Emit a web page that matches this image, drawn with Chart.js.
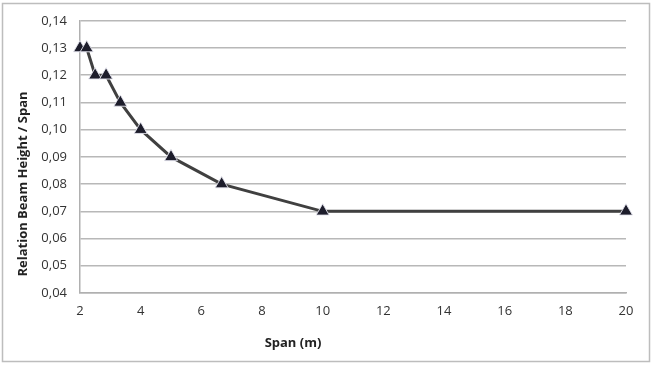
<!DOCTYPE html>
<html>
<head>
<meta charset="utf-8">
<script src="https://cdn.jsdelivr.net/npm/chart.js@4"></script>
<style>
  html, body { margin: 0; padding: 0; background: #fff; }
  #wrap { width: 653px; height: 365px; position: relative; }
</style>
</head>
<body>
<div id="wrap"><canvas id="grafico"></canvas></div>
<script>
// valores
var vaos = [2, 2.22, 2.5, 2.86, 3.33, 4, 5, 6.67, 10, 20];
var relacao = [0.13, 0.13, 0.12, 0.12, 0.11, 0.10, 0.09, 0.08, 0.07, 0.07];
var ticksX = [2, 4, 6, 8, 10, 12, 14, 16, 18, 20];
var ticksY = [0.04, 0.05, 0.06, 0.07, 0.08, 0.09, 0.10, 0.11, 0.12, 0.13, 0.14];
var tituloX = 'Span (m)';
var tituloY = 'Relation Beam Height / Span';

var pontos = [];
for (var i = 0; i < vaos.length; i++) {
    pontos.push({ x: vaos[i], y: relacao[i] });
}

// moldura cinza em volta de tudo + titulos dos eixos (posicao igual ao original)
const moldura = {
    id: 'moldura',
    beforeDraw(chart) {
        const ctx = chart.ctx;
        ctx.save();
        ctx.fillStyle = '#fff';
        ctx.fillRect(0, 0, chart.width, chart.height);
        ctx.strokeStyle = '#bdbdbd';
        ctx.lineWidth = 1.5;
        ctx.strokeRect(2.5, 3.5, 647, 358);
        ctx.restore();
    },
    afterDraw(chart) {
        const ctx = chart.ctx;
        ctx.save();
        ctx.fillStyle = '#222';
        ctx.font = 'bold 13px "Open Sans"';
        ctx.textAlign = 'center';
        ctx.textBaseline = 'middle';
        ctx.fillText(tituloX, 293, 343);
        ctx.translate(23, 184);
        ctx.rotate(-Math.PI / 2);
        ctx.fillText(tituloY, 0, 0);
        ctx.restore();
    }
};

const config = {
    type: 'line',
    data: {
        datasets: [{
            label: 'Relation',
            data: pontos,
            clip: false,
            borderColor: '#404040',
            borderWidth: 3,
            pointStyle: 'triangle',
            pointRadius: 7.5,
            pointHoverRadius: 7.5,
            pointBackgroundColor: '#1d1d2b',
            pointBorderColor: 'rgba(230,230,240,0.9)',
            pointBorderWidth: 1,
            tension: 0
        }]
    },
    options: {
        responsive: true,
        maintainAspectRatio: false,
        animation: false,
        layout: { padding: { top: 19, right: 27, left: 0, bottom: 0 } },
        plugins: {
            legend: { display: false },
            tooltip: { enabled: false }
        },
        scales: {
            x: {
                type: 'linear',
                min: 2,
                max: 20,
                afterBuildTicks: function (scale) {
                    scale.ticks = ticksX.map(v => ({ value: v }));
                },
                afterFit: function (scale) { scale.height = 72; },
                grid: { display: false, drawTicks: false },
                border: { color: '#b0b0b0', width: 1.5 },
                ticks: {
                    padding: 10,
                    color: '#333',
                    font: { family: 'Open Sans', size: 13 }
                }
            },
            y: {
                min: 0.04,
                max: 0.14,
                afterBuildTicks: function (scale) {
                    scale.ticks = ticksY.map(v => ({ value: v }));
                },
                afterFit: function (scale) { scale.width = 80; },
                grid: { color: '#b8b8b8', lineWidth: 1.5, drawTicks: false },
                border: { color: '#b0b0b0', width: 1.5 },
                ticks: {
                    padding: 13,
                    color: '#333',
                    font: { family: 'Open Sans', size: 13 },
                    callback: function (v) { return v.toFixed(2).replace('.', ','); }
                }
            }
        }
    },
    plugins: [moldura]
};

let grafico = new Chart(document.getElementById('grafico'), config);
</script>
</body>
</html>
